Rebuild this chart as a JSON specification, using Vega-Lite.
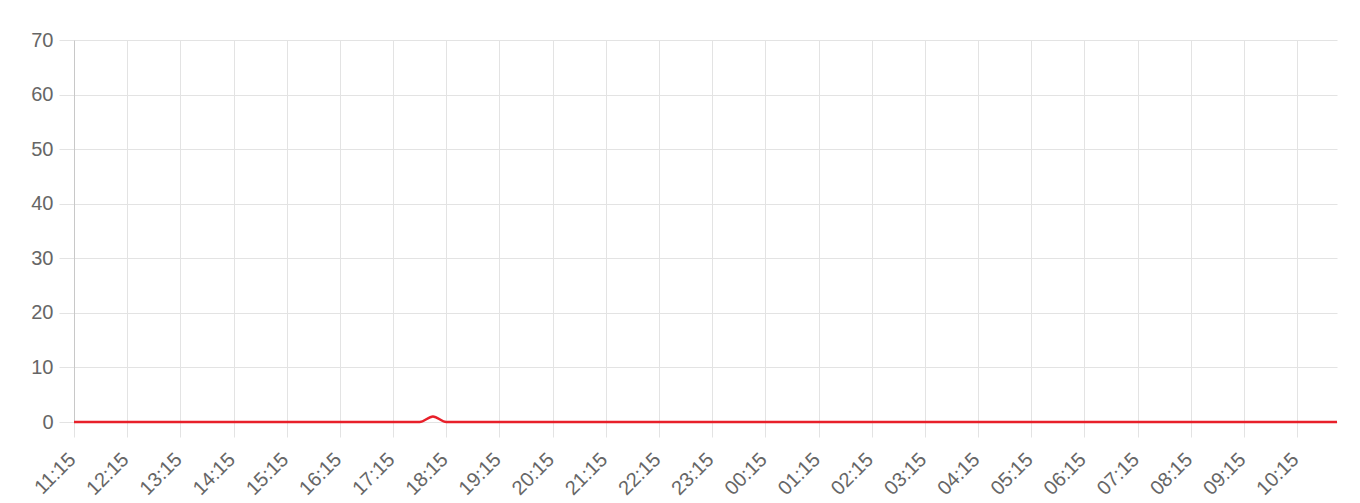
{
  "$schema": "https://vega.github.io/schema/vega-lite/v6.json",
  "width": 1263,
  "height": 382,
  "autosize": "none",
  "padding": {"left": 74, "top": 40, "right": 23, "bottom": 81},
  "background": "white",
  "config": {
    "view": {"stroke": null},
    "font": "Liberation Sans",
    "axis": {
      "labelFont": "Liberation Sans",
      "labelFontSize": 20,
      "labelColor": "#666666",
      "gridColor": "#e3e3e3",
      "tickColor": "#e3e3e3",
      "tickSize": 15,
      "title": null
    }
  },
  "data": {
    "values": [
      {"time": "2024-01-01T11:15", "value": 0},
      {"time": "2024-01-01T11:30", "value": 0},
      {"time": "2024-01-01T11:45", "value": 0},
      {"time": "2024-01-01T12:00", "value": 0},
      {"time": "2024-01-01T12:15", "value": 0},
      {"time": "2024-01-01T12:30", "value": 0},
      {"time": "2024-01-01T12:45", "value": 0},
      {"time": "2024-01-01T13:00", "value": 0},
      {"time": "2024-01-01T13:15", "value": 0},
      {"time": "2024-01-01T13:30", "value": 0},
      {"time": "2024-01-01T13:45", "value": 0},
      {"time": "2024-01-01T14:00", "value": 0},
      {"time": "2024-01-01T14:15", "value": 0},
      {"time": "2024-01-01T14:30", "value": 0},
      {"time": "2024-01-01T14:45", "value": 0},
      {"time": "2024-01-01T15:00", "value": 0},
      {"time": "2024-01-01T15:15", "value": 0},
      {"time": "2024-01-01T15:30", "value": 0},
      {"time": "2024-01-01T15:45", "value": 0},
      {"time": "2024-01-01T16:00", "value": 0},
      {"time": "2024-01-01T16:15", "value": 0},
      {"time": "2024-01-01T16:30", "value": 0},
      {"time": "2024-01-01T16:45", "value": 0},
      {"time": "2024-01-01T17:00", "value": 0},
      {"time": "2024-01-01T17:15", "value": 0},
      {"time": "2024-01-01T17:30", "value": 0},
      {"time": "2024-01-01T17:45", "value": 0},
      {"time": "2024-01-01T18:00", "value": 1},
      {"time": "2024-01-01T18:15", "value": 0},
      {"time": "2024-01-01T18:30", "value": 0},
      {"time": "2024-01-01T18:45", "value": 0},
      {"time": "2024-01-01T19:00", "value": 0},
      {"time": "2024-01-01T19:15", "value": 0},
      {"time": "2024-01-01T19:30", "value": 0},
      {"time": "2024-01-01T19:45", "value": 0},
      {"time": "2024-01-01T20:00", "value": 0},
      {"time": "2024-01-01T20:15", "value": 0},
      {"time": "2024-01-01T20:30", "value": 0},
      {"time": "2024-01-01T20:45", "value": 0},
      {"time": "2024-01-01T21:00", "value": 0},
      {"time": "2024-01-01T21:15", "value": 0},
      {"time": "2024-01-01T21:30", "value": 0},
      {"time": "2024-01-01T21:45", "value": 0},
      {"time": "2024-01-01T22:00", "value": 0},
      {"time": "2024-01-01T22:15", "value": 0},
      {"time": "2024-01-01T22:30", "value": 0},
      {"time": "2024-01-01T22:45", "value": 0},
      {"time": "2024-01-01T23:00", "value": 0},
      {"time": "2024-01-01T23:15", "value": 0},
      {"time": "2024-01-01T23:30", "value": 0},
      {"time": "2024-01-01T23:45", "value": 0},
      {"time": "2024-01-02T00:00", "value": 0},
      {"time": "2024-01-02T00:15", "value": 0},
      {"time": "2024-01-02T00:30", "value": 0},
      {"time": "2024-01-02T00:45", "value": 0},
      {"time": "2024-01-02T01:00", "value": 0},
      {"time": "2024-01-02T01:15", "value": 0},
      {"time": "2024-01-02T01:30", "value": 0},
      {"time": "2024-01-02T01:45", "value": 0},
      {"time": "2024-01-02T02:00", "value": 0},
      {"time": "2024-01-02T02:15", "value": 0},
      {"time": "2024-01-02T02:30", "value": 0},
      {"time": "2024-01-02T02:45", "value": 0},
      {"time": "2024-01-02T03:00", "value": 0},
      {"time": "2024-01-02T03:15", "value": 0},
      {"time": "2024-01-02T03:30", "value": 0},
      {"time": "2024-01-02T03:45", "value": 0},
      {"time": "2024-01-02T04:00", "value": 0},
      {"time": "2024-01-02T04:15", "value": 0},
      {"time": "2024-01-02T04:30", "value": 0},
      {"time": "2024-01-02T04:45", "value": 0},
      {"time": "2024-01-02T05:00", "value": 0},
      {"time": "2024-01-02T05:15", "value": 0},
      {"time": "2024-01-02T05:30", "value": 0},
      {"time": "2024-01-02T05:45", "value": 0},
      {"time": "2024-01-02T06:00", "value": 0},
      {"time": "2024-01-02T06:15", "value": 0},
      {"time": "2024-01-02T06:30", "value": 0},
      {"time": "2024-01-02T06:45", "value": 0},
      {"time": "2024-01-02T07:00", "value": 0},
      {"time": "2024-01-02T07:15", "value": 0},
      {"time": "2024-01-02T07:30", "value": 0},
      {"time": "2024-01-02T07:45", "value": 0},
      {"time": "2024-01-02T08:00", "value": 0},
      {"time": "2024-01-02T08:15", "value": 0},
      {"time": "2024-01-02T08:30", "value": 0},
      {"time": "2024-01-02T08:45", "value": 0},
      {"time": "2024-01-02T09:00", "value": 0},
      {"time": "2024-01-02T09:15", "value": 0},
      {"time": "2024-01-02T09:30", "value": 0},
      {"time": "2024-01-02T09:45", "value": 0},
      {"time": "2024-01-02T10:00", "value": 0},
      {"time": "2024-01-02T10:15", "value": 0},
      {"time": "2024-01-02T10:30", "value": 0},
      {"time": "2024-01-02T10:45", "value": 0},
      {"time": "2024-01-02T11:00", "value": 0}
    ]
  },
  "mark": {"type": "line", "color": "#e8202a", "strokeWidth": 2.5, "interpolate": "monotone"},
  "encoding": {
    "x": {
      "field": "time",
      "type": "temporal",
      "scale": {
        "domain": [
          {"year": 2024, "month": 1, "date": 1, "hours": 11, "minutes": 15},
          {"year": 2024, "month": 1, "date": 2, "hours": 11, "minutes": 0}
        ],
        "nice": false
      },
      "axis": {
        "format": "%H:%M",
        "labelAngle": -45,
        "labelPadding": 12,
        "labelOffset": -9,
        "domain": false,
        "labelOverlap": false,
        "values": [
          {"year": 2024, "month": 1, "date": 1, "hours": 11, "minutes": 15},
          {"year": 2024, "month": 1, "date": 1, "hours": 12, "minutes": 15},
          {"year": 2024, "month": 1, "date": 1, "hours": 13, "minutes": 15},
          {"year": 2024, "month": 1, "date": 1, "hours": 14, "minutes": 15},
          {"year": 2024, "month": 1, "date": 1, "hours": 15, "minutes": 15},
          {"year": 2024, "month": 1, "date": 1, "hours": 16, "minutes": 15},
          {"year": 2024, "month": 1, "date": 1, "hours": 17, "minutes": 15},
          {"year": 2024, "month": 1, "date": 1, "hours": 18, "minutes": 15},
          {"year": 2024, "month": 1, "date": 1, "hours": 19, "minutes": 15},
          {"year": 2024, "month": 1, "date": 1, "hours": 20, "minutes": 15},
          {"year": 2024, "month": 1, "date": 1, "hours": 21, "minutes": 15},
          {"year": 2024, "month": 1, "date": 1, "hours": 22, "minutes": 15},
          {"year": 2024, "month": 1, "date": 1, "hours": 23, "minutes": 15},
          {"year": 2024, "month": 1, "date": 2, "hours": 0, "minutes": 15},
          {"year": 2024, "month": 1, "date": 2, "hours": 1, "minutes": 15},
          {"year": 2024, "month": 1, "date": 2, "hours": 2, "minutes": 15},
          {"year": 2024, "month": 1, "date": 2, "hours": 3, "minutes": 15},
          {"year": 2024, "month": 1, "date": 2, "hours": 4, "minutes": 15},
          {"year": 2024, "month": 1, "date": 2, "hours": 5, "minutes": 15},
          {"year": 2024, "month": 1, "date": 2, "hours": 6, "minutes": 15},
          {"year": 2024, "month": 1, "date": 2, "hours": 7, "minutes": 15},
          {"year": 2024, "month": 1, "date": 2, "hours": 8, "minutes": 15},
          {"year": 2024, "month": 1, "date": 2, "hours": 9, "minutes": 15},
          {"year": 2024, "month": 1, "date": 2, "hours": 10, "minutes": 15}
        ]
      }
    },
    "y": {
      "field": "value",
      "type": "quantitative",
      "scale": {"domain": [0, 70], "nice": false},
      "axis": {
        "values": [0, 10, 20, 30, 40, 50, 60, 70],
        "labelPadding": 6,
        "domainColor": "#c8c8c8"
      }
    }
  }
}
